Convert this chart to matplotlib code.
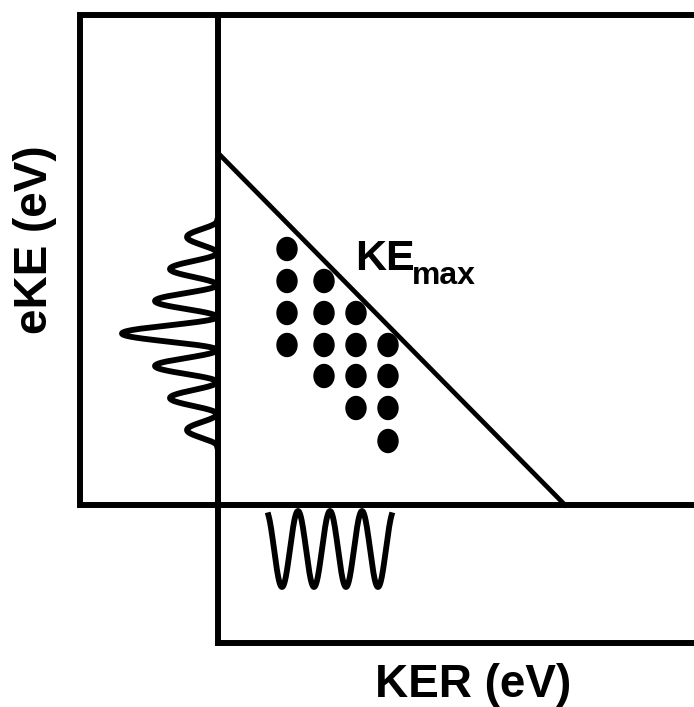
import numpy as np
import matplotlib.pyplot as plt
from matplotlib.patches import Ellipse

# todo en pixeles de la figura (694x707), y hacia abajo
caja_x = [694, 80, 80, 694]
caja_y = [505, 505, 15, 15]
eje_x = [218, 218, 694]
eje_y = [15, 643, 643]
diag_x = [219, 565]
diag_y = [154, 505]

# espectro eKE (izquierda): nodos sobre el eje y profundidad de cada lobulo
nodos_eke = [221, 253, 285, 317, 350, 382, 414, 446]
prof_eke = [30, 47, 62, 95, 62, 47, 30]
# espectro KER (abajo)
nodos_ker = [266, 298, 330, 362, 394]
prof_ker = [76, 76, 76, 76]

# puntos de coincidencia
puntos_x = [287, 287, 287, 287, 324, 324, 324, 324, 356, 356, 356, 356, 388, 388, 388, 388]
puntos_y = [249, 281, 313, 345, 281, 313, 345, 376, 313, 345, 376, 408, 345, 376, 408, 441]

fig = plt.figure(figsize=(6.94, 7.07), dpi=100)
ax = fig.add_axes([0, 0, 1, 1])
ax.set_xlim(0, 694)
ax.set_ylim(707, 0)
ax.axis('off')

lw = 4.3
ax.plot(caja_x, caja_y, 'k', lw=lw, solid_joinstyle='miter')
ax.plot(eje_x, eje_y, 'k', lw=lw, solid_joinstyle='miter')
ax.plot(diag_x, diag_y, 'k', lw=3.4)

t = np.linspace(0, 1, 80)
forma = np.sin(np.pi*t)**2  # un periodo de seno por lobulo
xs, ys = [], []
for i, d in enumerate(prof_eke):
    ys.append(nodos_eke[i] + t*(nodos_eke[i+1]-nodos_eke[i]))
    xs.append(217 - d*forma)
ax.plot(np.concatenate(xs), np.concatenate(ys), 'k', lw=4.2, solid_joinstyle='round')

xs, ys = [], []
for i, d in enumerate(prof_ker):
    xs.append(nodos_ker[i] + t*(nodos_ker[i+1]-nodos_ker[i]))
    ys.append(511 + d*forma)
xs, ys = np.concatenate(xs), np.concatenate(ys)
# sin la colita horizontal en los extremos
ax.plot(xs[6:-6], ys[6:-6], 'k', lw=4.2, solid_joinstyle='round')

for x, y in zip(puntos_x, puntos_y):
    ax.add_patch(Ellipse((x, y), 20, 23, color='k'))

fuente = dict(family='Liberation Sans', weight='bold', color='k')
ax.text(355, 270, 'KE', fontsize=31, ha='left', va='baseline', **fuente)
ax.text(412, 284, 'max', fontsize=23, ha='left', va='baseline', **fuente)
ax.text(473, 697, 'KER (eV)', fontsize=33, ha='center', va='baseline', **fuente)
ax.text(35, 240, 'eKE (eV)', fontsize=33, ha='center', va='center', rotation=90, **fuente)

plt.savefig('out.png', dpi=100)
